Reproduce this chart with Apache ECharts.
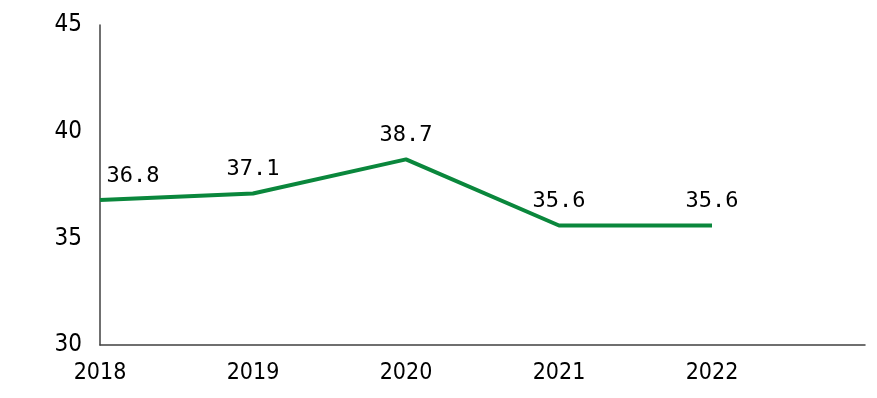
<!DOCTYPE html>
<html><head><meta charset="utf-8">
<script src="https://cdn.jsdelivr.net/npm/echarts@6/dist/echarts.min.js"></script>
<style>html,body{margin:0;padding:0;background:#fff}#c{width:877px;height:398px}</style>
</head><body><div id="c"></div>
<script>
var categories = ['2018', '2019', '2020', '2021', '2022', ''];
var values = [36.8, 37.1, 38.7, 35.6, 35.6];
var yTicks = [30, 35, 40, 45];

var data = values.map(function (v, i) {
  var d = { value: v };
  if (i === 0) d.label = { offset: [33, 0] };
  return d;
});

var chart = echarts.init(document.getElementById('c'));
chart.setOption({
  animation: false,
  grid: { left: 100, right: 12, top: 25, bottom: 53 },
  xAxis: {
    type: 'category', data: categories, boundaryGap: false,
    axisLine: { lineStyle: { color: '#404040', width: 1.5 } },
    axisTick: { show: false },
    axisLabel: { color: '#000', fontSize: 23, fontFamily: 'DejaVu Sans Condensed', margin: 17, interval: 0 }
  },
  yAxis: {
    type: 'value', min: yTicks[0], max: yTicks[yTicks.length - 1], interval: 5,
    axisLine: { show: true, lineStyle: { color: '#404040', width: 1.5 } },
    axisTick: { show: false },
    splitLine: { show: false },
    axisLabel: { color: '#000', fontSize: 24, fontFamily: 'DejaVu Sans Condensed', margin: 18 }
  },
  series: [{
    type: 'line', data: data, symbol: 'circle', symbolSize: 2, showSymbol: true,
    lineStyle: { color: '#0a873c', width: 4 },
    itemStyle: { color: 'rgba(0,0,0,0)', borderWidth: 0 },
    label: { show: true, position: 'top', distance: 12, color: '#000', fontSize: 22, fontFamily: 'DejaVu Sans Mono' }
  }]
});
</script></body></html>
